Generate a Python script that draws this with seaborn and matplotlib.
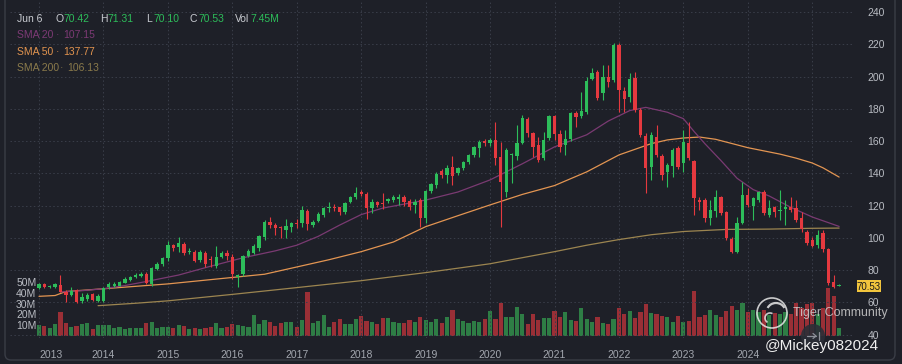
"""Monthly candlestick chart with SMA overlays and volume, dark theme."""

import matplotlib
matplotlib.use("Agg")
import matplotlib.pyplot as plt
from matplotlib.patches import Circle, Arc, FancyBboxPatch, Rectangle
import numpy as np
import pandas as pd
import seaborn as sns


BG = "#1e2028"
GRID = "#3a3e4a"
UP = "#2dbd5a"
DOWN = "#e5393f"
UP_VOL = "#2e7d45"
DOWN_VOL = "#9a2f36"
TEXT = "#b9bcc3"

# ---- data -----------------------------------------------------------------
months = pd.period_range("2013-01", "2025-06", freq="M")
years = list(range(2013, 2025))

opens = [69.2, 71.4, 69.6, 69.4, 70.8, 66.5, 64.6, 67.7, 61.1, 61.9, 65.0, 61.1,
         61.1, 69.4, 70.2, 70.4, 72.3, 73.9, 76.0, 76.4, 77.6, 71.4, 80.8, 83.6,
         87.4, 95.6, 94.2, 96.3, 91.2, 91.5, 86.3, 90.9, 87.0, 82.6, 88.0, 90.5,
         88.4, 76.0, 77.7, 88.8, 90.9, 94.0, 100.8, 110.1, 108.1, 106.6, 105.0, 106.6,
         109.5, 109.1, 117.0, 108.1, 110.7, 114.3, 118.4, 119.0, 119.0, 116.3, 122.5, 125.1,
         128.5, 127.3, 118.4, 122.5, 121.9, 123.1, 123.6, 124.0, 125.6, 123.1, 120.5, 123.6,
         112.6, 129.1, 132.9, 141.5, 139.1, 143.8, 140.1, 143.2, 147.3, 151.5, 156.0, 160.2,
         158.7, 160.7, 150.4, 128.7, 151.7, 150.8, 159.1, 173.6, 164.9, 157.7, 149.4, 161.8,
         175.7, 164.5, 157.7, 161.2, 177.7, 175.7, 178.3, 198.4, 203.2, 189.7, 200.0, 198.0,
         219.7, 191.4, 187.6, 199.0, 179.4, 163.2, 144.0, 162.4, 150.8, 141.1, 144.6, 155.6,
         146.3, 158.7, 147.7, 123.5, 123.5, 112.5, 116.5, 125.2, 116.3, 99.1, 91.5, 109.5,
         126.6, 119.8, 123.5, 128.7, 114.2, 119.4, 116.8, 117.8, 119.2, 118.4, 112.2, 104.0,
         98.7, 95.6, 102.9, 92.9, 72.9, 70.42]
highs = [72.3, 72.0, 70.8, 72.0, 76.8, 67.7, 69.4, 68.3, 65.7, 66.0, 65.7, 65.3,
         69.4, 72.9, 72.5, 73.5, 75.5, 76.6, 78.5, 78.6, 78.6, 82.0, 85.0, 88.5,
         98.4, 96.5, 100.8, 97.5, 93.5, 92.5, 92.5, 92.0, 88.8, 95.0, 92.0, 92.5,
         90.0, 77.7, 89.5, 93.0, 96.0, 102.0, 111.0, 112.8, 109.5, 107.5, 111.6, 110.0,
         112.0, 119.6, 117.8, 111.0, 116.0, 119.0, 122.0, 121.0, 119.5, 122.0, 126.0, 131.9,
         129.5, 128.5, 124.0, 123.0, 127.7, 125.0, 126.5, 127.0, 126.5, 124.0, 124.0, 125.0,
         130.0, 134.0, 141.0, 143.0, 145.0, 150.9, 144.0, 148.0, 152.0, 157.0, 160.5, 161.5,
         162.0, 172.1, 159.7, 155.6, 152.5, 170.0, 176.0, 174.8, 165.9, 162.8, 165.9, 176.3,
         176.3, 167.0, 167.0, 178.3, 178.5, 190.7, 200.0, 205.2, 204.2, 207.3, 207.3, 220.7,
         220.7, 193.8, 202.1, 203.2, 180.4, 164.9, 165.9, 170.1, 152.0, 146.3, 155.5, 157.0,
         166.9, 172.1, 148.4, 125.6, 124.5, 123.5, 129.7, 126.0, 117.0, 100.5, 113.2, 134.9,
         130.8, 125.5, 129.3, 130.0, 123.5, 120.0, 129.7, 123.6, 125.2, 123.5, 116.3, 105.0,
         100.8, 104.9, 104.9, 93.8, 77.0, 71.31]
lows = [68.1, 69.0, 68.8, 69.0, 66.3, 60.1, 64.0, 59.5, 59.9, 61.1, 61.1, 60.1,
        60.5, 68.1, 69.6, 70.0, 71.8, 73.5, 75.0, 75.8, 71.5, 70.5, 80.0, 82.5,
        86.0, 92.0, 91.5, 89.5, 90.0, 85.0, 85.0, 82.0, 81.8, 81.5, 87.5, 86.5,
        74.8, 69.4, 76.5, 88.0, 90.0, 92.0, 99.0, 106.0, 101.8, 99.8, 99.8, 104.0,
        106.0, 107.0, 105.0, 107.0, 110.0, 113.0, 116.0, 116.5, 114.0, 115.0, 121.5, 124.0,
        126.0, 112.0, 115.6, 119.0, 117.8, 121.5, 122.0, 120.5, 120.0, 117.5, 115.3, 107.0,
        109.0, 128.0, 131.0, 137.0, 134.0, 133.0, 139.0, 142.0, 146.0, 150.0, 150.0, 157.0,
        157.0, 145.3, 107.0, 125.6, 133.9, 148.4, 158.0, 162.8, 150.4, 147.3, 148.4, 160.8,
        160.8, 153.5, 151.5, 160.3, 169.0, 174.2, 177.0, 198.0, 185.6, 185.6, 193.9, 197.0,
        178.3, 178.3, 184.5, 178.3, 162.8, 127.7, 135.9, 150.4, 135.9, 131.8, 138.0, 143.0,
        141.1, 148.4, 114.2, 117.3, 110.1, 108.0, 113.2, 114.2, 98.7, 90.5, 90.9, 108.5,
        119.4, 111.2, 122.5, 114.2, 113.0, 113.2, 111.2, 108.0, 116.3, 110.1, 103.5, 95.6,
        94.5, 93.5, 91.5, 70.8, 68.7, 70.10]
closes = [71.2, 69.4, 70.2, 71.2, 66.7, 64.4, 67.3, 60.1, 63.6, 64.6, 61.5, 64.0,
          68.8, 71.2, 71.4, 72.7, 74.8, 76.0, 77.0, 77.6, 71.9, 81.2, 83.9, 87.4,
          95.6, 93.6, 96.7, 90.5, 91.9, 85.9, 91.5, 83.9, 86.5, 88.0, 90.5, 88.8,
          77.7, 77.0, 88.8, 92.1, 95.3, 101.2, 110.1, 108.1, 106.0, 106.0, 107.4, 109.1,
          108.7, 117.4, 108.7, 110.1, 114.9, 118.4, 119.4, 118.4, 116.3, 121.5, 125.1, 128.1,
          127.5, 118.4, 122.5, 120.5, 121.1, 124.4, 125.6, 125.6, 122.5, 119.4, 122.3, 112.6,
          129.1, 133.3, 139.7, 139.1, 143.2, 138.5, 143.2, 147.3, 151.5, 156.4, 159.5, 158.9,
          160.7, 149.4, 134.9, 154.6, 152.3, 158.7, 174.2, 164.9, 156.6, 148.4, 160.8, 175.7,
          164.5, 156.6, 161.2, 177.7, 174.8, 178.8, 197.6, 202.5, 186.6, 200.0, 196.5, 219.7,
          191.8, 186.0, 198.4, 179.4, 163.9, 143.2, 163.9, 151.5, 139.0, 145.3, 154.6, 144.2,
          159.7, 149.4, 124.6, 122.5, 112.2, 117.5, 125.5, 115.5, 99.8, 91.5, 109.5, 126.6,
          120.4, 124.6, 128.7, 115.3, 118.4, 116.3, 117.6, 119.2, 117.6, 111.2, 105.5, 97.0,
          95.3, 101.8, 93.0, 71.9, 69.8, 70.53]
volumes = [10.2, 9.6, 7.7, 10.8, 22.6, 12.4, 8.7, 9.3, 11.1, 11.8, 6.5, 10.2,
           10.2, 10.2, 7.7, 8.1, 6.5, 7.1, 7.1, 7.1, 11.8, 12.7, 7.7, 8.7,
           8.1, 7.7, 10.2, 9.3, 6.5, 7.1, 6.2, 7.1, 8.7, 12.4, 7.1, 8.7,
           10.8, 10.2, 9.3, 8.7, 19.5, 11.1, 14.8, 12.7, 9.6, 11.8, 13.3, 13.3,
           8.7, 14.8, 41.1, 12.4, 13.9, 19.5, 8.7, 12.7, 15.5, 11.1, 11.1, 15.5,
           18.5, 14.2, 12.7, 10.8, 16.4, 16.4, 12.7, 11.8, 11.8, 14.8, 12.7, 17.3,
           14.8, 13.3, 15.5, 12.4, 17.9, 24.1, 15.5, 13.9, 11.8, 13.9, 13.3, 15.5,
           23.2, 15.5, 30.3, 17.3, 17.3, 27.2, 20.4, 11.1, 20.4, 14.8, 16.4, 16.4,
           23.2, 17.9, 22.0, 14.8, 13.9, 26.3, 15.5, 13.3, 17.3, 11.8, 11.1, 15.5,
           25.6, 20.1, 23.5, 16.4, 22.6, 29.4, 21.6, 20.4, 18.5, 17.9, 13.3, 18.5,
           13.3, 14.2, 41.7, 17.9, 19.5, 24.1, 19.5, 17.3, 23.2, 28.1, 24.1, 30.3,
           22.6, 24.1, 22.0, 24.0, 19.0, 21.0, 20.0, 22.0, 20.0, 30.3, 26.0, 29.7,
           30.3, 20.0, 26.0, 44.2, 37.1, 7.45]

sma20_month = [4, 8, 12, 16, 20, 26, 32, 38, 44, 48, 52, 56, 60, 64, 68, 72, 78, 84,
               90, 96, 102, 106, 110, 113, 117, 120, 122, 124, 127, 130, 133, 136,
               140, 144, 147, 149]
sma20_value = [66.5, 67.3, 68.5, 70.5, 73.0, 77.0, 82.5, 87.7, 92.0, 95.5, 101.0, 108.0,
               114.5, 118.5, 121.0, 123.5, 128.5, 136.0, 146.0, 156.5, 164.0, 172.5,
               179.0, 181.0, 178.0, 174.0, 166.0, 158.5, 148.0, 137.0, 130.0, 126.0,
               119.0, 113.0, 109.5, 107.15]
sma50_month = [0, 3, 5, 8, 12, 24, 36, 42, 48, 54, 60, 66, 72, 78, 84, 90, 96, 102,
               108, 114, 117, 120, 123, 126, 129, 132, 135, 138, 141, 144, 146, 149]
sma50_value = [63.8, 64.3, 66.8, 67.5, 68.5, 71.5, 75.5, 77.5, 82.0, 86.5, 91.5, 97.5,
               107.0, 113.8, 120.5, 127.0, 132.5, 141.0, 151.5, 158.5, 160.8, 162.0,
               162.6, 161.2, 158.6, 156.0, 154.0, 152.0, 149.5, 146.5, 143.5, 137.77]
sma200_month = [11, 18, 24, 36, 48, 60, 72, 84, 96, 102, 108, 114, 120, 128, 136, 144, 149]
sma200_value = [58.0, 59.5, 61.0, 65.0, 69.2, 73.5, 78.5, 84.0, 91.5, 95.5, 99.0,
                102.0, 104.0, 105.3, 105.5, 106.0, 106.13]

price_ticks = list(range(40, 241, 20))
volume_ticks = [10, 20, 30, 40, 50]


def main() -> None:
    sns.set_theme(style="dark", rc={"axes.facecolor": BG, "figure.facecolor": BG})
    plt.rcParams["font.family"] = ["Liberation Sans", "DejaVu Sans"]

    fig = plt.figure(figsize=(9.02, 3.64), dpi=100)
    fig.patch.set_facecolor(BG)
    W, H = 902, 364
    rect = [10 / W, (H - 338) / H, 842 / W, 338 / H]

    # volume axes (behind)
    axv = fig.add_axes(rect, zorder=0)
    axv.set_facecolor(BG)
    # price axes (front, transparent)
    ax = fig.add_axes(rect, zorder=1)
    ax.patch.set_alpha(0)

    x = np.arange(len(months))
    o = np.array(opens)
    c = np.array(closes)
    up = c >= o

    vol_colors = np.where(up, UP_VOL, DOWN_VOL)
    axv.bar(x, volumes, width=0.78, color=vol_colors, linewidth=0)
    axv.set_xlim(-5.4, 151.4)
    axv.set_ylim(-1.85, 311)
    axv.set_yticks(volume_ticks)
    axv.set_yticklabels([f"{v}M" for v in volume_ticks])
    axv.tick_params(axis="y", left=False, pad=-25, labelsize=7.5, labelcolor=TEXT)
    axv.tick_params(axis="x", bottom=False, labelbottom=False)
    for s in axv.spines.values():
        s.set_visible(False)
    axv.grid(False)

    # grid on price axes
    ax.set_xlim(-5.4, 151.4)
    ax.set_ylim(37.95, 247.6)
    year_pos = [12 * (y - 2013) for y in years] + [144]
    for xp in year_pos:
        ax.axvline(xp, color=GRID, linewidth=0.7, linestyle=(0, (1.5, 2.5)), zorder=0)
    for yp in price_ticks:
        ax.axhline(yp, color=GRID, linewidth=0.7, linestyle=(0, (1.5, 2.5)), zorder=0)

    # moving averages
    sns.lineplot(x=sma200_month, y=sma200_value, ax=ax, color="#9c8550", linewidth=0.9, zorder=2)
    sns.lineplot(x=sma50_month, y=sma50_value, ax=ax, color="#e39552", linewidth=0.9, zorder=2)
    sns.lineplot(x=sma20_month, y=sma20_value, ax=ax, color="#7a3a72", linewidth=0.9, zorder=2)

    # candles
    colors = np.where(up, UP, DOWN)
    ax.vlines(x, lows, highs, colors=colors, linewidth=0.8, zorder=3)
    body = np.maximum(np.abs(c - o), 0.6)
    ax.bar(x, body, bottom=np.minimum(o, c), width=0.62, color=colors, linewidth=0, zorder=4)

    ax.yaxis.tick_right()
    ax.set_yticks(price_ticks)
    ax.set_yticklabels([str(t) for t in price_ticks])
    ax.tick_params(axis="y", right=False, pad=5, labelsize=7.5, labelcolor=TEXT)
    ax.set_xticks(year_pos[:-1])
    ax.set_xticklabels([str(y) for y in years])
    ax.tick_params(axis="x", bottom=False, pad=3, labelsize=7.5, labelcolor="#a3a7af")
    ax.get_xticklabels()[0].set_horizontalalignment("left")
    ax.set_xlabel("")
    ax.set_ylabel("")
    for s in ax.spines.values():
        s.set_visible(False)

    # overlay in pixel coordinates for header, badge and watermark
    ov = fig.add_axes([0, 0, 1, 1], zorder=5)
    ov.set_xlim(0, W)
    ov.set_ylim(H, 0)
    ov.axis("off")
    ov.patch.set_alpha(0)

    ov.add_patch(FancyBboxPatch((5, -20), 890, 380, boxstyle="round,pad=0,rounding_size=6",
                                fill=False, edgecolor="#3a3d46", linewidth=1.0))

    fs = 7.5
    head = [(17, "Jun 6", "#c9ccd2"), (55, "O", "#c9ccd2"), (63, "70.42", UP),
            (100, "H", "#c9ccd2"), (107, "71.31", UP), (146, "L", "#c9ccd2"),
            (153, "70.10", UP), (190, "C", "#c9ccd2"), (198, "70.53", UP),
            (235, "Vol", "#c9ccd2"), (250, "7.45M", UP)]
    for hx, txt, col in head:
        ov.text(hx, 18.5, txt, color=col, fontsize=fs, va="center", ha="left")

    sma_rows = [(35, "SMA 20", "107.15", "#7d3a75", 56, 63),
                (52, "SMA 50", "137.77", "#e2944f", 56, 63),
                (68, "SMA 200", "106.13", "#8a7a4b", 60, 67)]
    for yy, name, val, col, dx, vx in sma_rows:
        ov.text(17, yy, name, color=col, fontsize=fs, va="center", ha="left")
        ov.text(dx, yy, "·", color=col, fontsize=fs, va="center", ha="left")
        ov.text(vx, yy, val, color=col, fontsize=fs, va="center", ha="left")

    # last price badge
    ov.add_patch(Rectangle((857, 280), 24, 12, facecolor="#f2c53d", edgecolor="none"))
    ov.text(869, 286.5, "70.53", color="#1a1a1a", fontsize=7, va="center", ha="center")

    # scroll-to-latest button drawn as lines
    ov.add_patch(Circle((813, 336), 12, facecolor="#2b2e37", edgecolor="none", alpha=0.9))
    ov.plot([807, 816], [336, 336], color="#8d9099", linewidth=0.9)
    ov.plot([813, 816, 813], [333.5, 336, 338.5], color="#8d9099", linewidth=0.9)
    ov.plot([818.5, 818.5], [332, 340], color="#8d9099", linewidth=0.9)

    # watermark
    ov.add_patch(Circle((772, 313), 15, fill=False, edgecolor="#e8e8e8", linewidth=1.2, alpha=0.85))
    ov.add_patch(Arc((776, 311), 18, 16, theta1=200, theta2=340, edgecolor="#e8e8e8",
                     linewidth=1.6, alpha=0.85))
    ov.add_patch(Arc((770, 318), 10, 10, theta1=120, theta2=300, edgecolor="#e8e8e8",
                     linewidth=1.2, alpha=0.85))
    ov.text(793, 313, "Tiger Community", color="#d9d9d9", fontsize=9, va="center",
            ha="left", alpha=0.8)
    ov.text(765, 346, "@Mickey082024", color="#f0f0f0", fontsize=11, va="center",
            ha="left")

    fig.savefig("out.png", dpi=100, facecolor=BG)
    plt.close(fig)


if __name__ == "__main__":
    main()
